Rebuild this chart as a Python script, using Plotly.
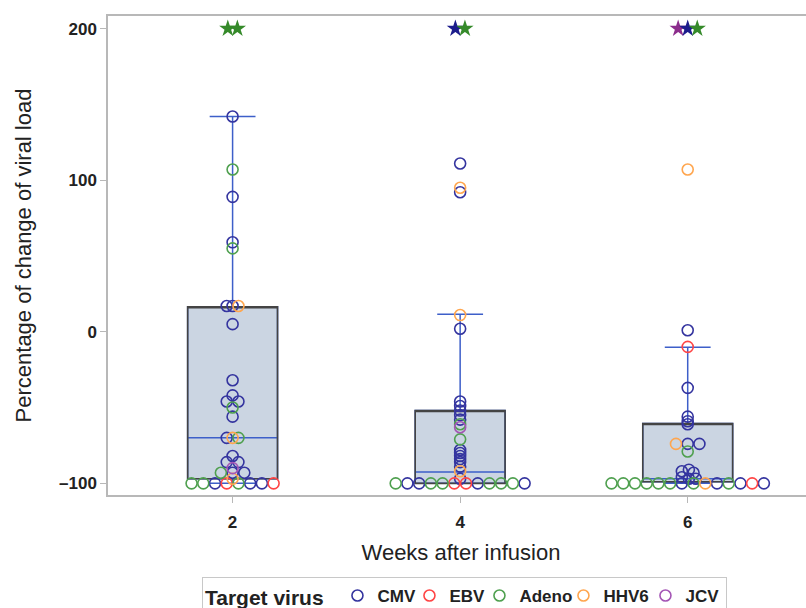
import plotly.graph_objects as go

# ---------------- data ----------------
weeks = [2, 4, 6]
tick_vals_y = [-100, 0, 100, 200]
tick_text_y = ["\u2013100", "0", "100", "200"]

# box statistics per week
box_q1 = [-97, -100, -99]
box_median = [-70, -92.5, -97]
box_q3 = [16.5, -52, -60.5]
box_low = [-100, -100, -100]
box_high = [142, 11.5, -10.3]

# points per virus: week, value, jitter slot
cmv_week = [2]*20 + [4]*19 + [6]*17
cmv_value = [142, 89, 59, 17, 17, 5, -32, -42, -46, -46, -56, -70, -82, -86, -86, -93, -93, -100, -100, -100,
             111, 92, 2, -46, -49, -52, -55, -58, -78, -80, -82, -84, -86, -89, -97, -100, -100, -100, -100,
             1, -37, -56, -59, -61, -74, -74, -92, -91, -93, -96, -97, -97, -100, -100, -100, -100]
cmv_slot = [0, 0, 0, -0.5, 0, 0, 0, 0, -0.5, 0.5, 0, -0.5, 0, -0.5, 0.5, 0, 1, -1.5, 1.5, 2.5,
            0, 0, 0, 0, 0, 0, 0, 0, 0, 0, 0, 0, 0, 0, 0, -4.5, -3.5, 1.5, 5.5,
            0, 0, 0, 0, 0, 0, 1, -0.5, 0.1, 0.5, -0.5, 0.1, 0.7, -0.5, 2.5, 4.5, 6.5]

ebv_week = [2, 2, 4, 4, 6, 6]
ebv_value = [-100, -100, -100, -100, -10, -100]
ebv_slot = [-0.5, 3.5, -0.5, 0.5, 0, 5.5]

adeno_week = [2]*8 + [4]*8 + [6]*9
adeno_value = [107, 55, -50, -70, -93, -100, -100, -100,
               -61, -71, -100, -100, -100, -100, -100, -100,
               -79, -100, -100, -100, -100, -100, -100, -100, -100]
adeno_slot = [0, 0, 0, 0.5, -1, -3.5, -2.5, 0.5,
              0, 0, -5.5, -2.5, -1.5, 2.5, 3.5, 4.5,
              0, -6.5, -5.5, -4.5, -3.5, -2.5, -1.5, 0.5, 3.5]

hhv6_week = [2, 2, 2, 4, 4, 4, 6, 6, 6]
hhv6_value = [17, -70, -97, 95, 11, -92, 107, -74, -100]
hhv6_slot = [0.5, 0, 0, 0, 0, 0, 0, -1, 1.5]

jcv_week = [2, 4]
jcv_value = [-90, -63]
jcv_slot = [0, 0]

# values above 200 shown as stars at the top
star_week = [2, 2, 4, 4, 6, 6, 6]
star_virus = ["Adeno", "Adeno", "CMV", "Adeno", "JCV", "CMV", "Adeno"]
star_slot = [-0.5, 0.5, -0.5, 0.5, -1, 0, 1]
star_value = 200

viruses = ["CMV", "EBV", "Adeno", "HHV6", "JCV"]
circle_colors = {"CMV": "#34349f", "EBV": "#ff4545", "Adeno": "#4fa04f",
                 "HHV6": "#ffa64f", "JCV": "#a455b5"}
star_colors = {"CMV": "#1c1c8c", "Adeno": "#358a2a", "JCV": "#8c2d8c"}
legend_widths = {"CMV": 27, "EBV": 25, "Adeno": 39, "HHV6": 37, "JCV": 35}

SLOT = 0.103       # jitter step (x units) for circles
STAR_STEP = 0.084  # jitter step for stars

series = {
    "CMV": (cmv_week, cmv_value, cmv_slot),
    "EBV": (ebv_week, ebv_value, ebv_slot),
    "Adeno": (adeno_week, adeno_value, adeno_slot),
    "HHV6": (hhv6_week, hhv6_value, hhv6_slot),
    "JCV": (jcv_week, jcv_value, jcv_slot),
}

FONT = "Liberation Sans, Arial, sans-serif"

# ---------------- figure ----------------
fig = go.Figure()

# box with blue whiskers / median
fig.add_trace(go.Box(
    x=weeks, q1=box_q1, median=box_median, q3=box_q3,
    lowerfence=box_low, upperfence=box_high,
    width=0.79, whiskerwidth=0.51, boxpoints=False,
    fillcolor="#cbd5e2", line=dict(color="#3d5fc9", width=1.5),
    showlegend=False, hoverinfo="skip"))
# dark outline of the box
fig.add_trace(go.Box(
    x=weeks, q1=box_q1, median=box_q3, q3=box_q3,
    lowerfence=box_q1, upperfence=box_q3,
    width=0.79, whiskerwidth=0, boxpoints=False,
    fillcolor="rgba(0,0,0,0)", line=dict(color="#444444", width=1.6),
    showlegend=False, hoverinfo="skip"))

for v in viruses:
    w, val, s = series[v]
    fig.add_trace(go.Scatter(
        x=[wi + si * SLOT for wi, si in zip(w, s)], y=val,
        mode="markers", name=v, legendwidth=legend_widths[v],
        marker=dict(symbol="circle-open", size=11,
                    line=dict(color=circle_colors[v], width=1.6),
                    color=circle_colors[v])))

for v in ["JCV", "CMV", "Adeno"]:
    xs = [wi + si * STAR_STEP for wi, si, sv in zip(star_week, star_slot, star_virus) if sv == v]
    fig.add_trace(go.Scatter(
        x=xs, y=[star_value] * len(xs), mode="markers", showlegend=False,
        marker=dict(symbol="star", size=13, color=star_colors[v],
                    line=dict(width=0))))

fig.update_layout(
    width=814, height=626,
    margin=dict(l=108, r=0, t=16, b=131),
    paper_bgcolor="white", plot_bgcolor="white",
    boxmode="overlay",
    font=dict(family=FONT, color="#222222"),
    xaxis=dict(range=[0.905, 7.11], tickvals=weeks, ticktext=[str(w) for w in weeks],
               showgrid=False, zeroline=False, automargin=False,
               showline=True, mirror=True, linecolor="#b8b8b8", linewidth=1.5,
               ticks="outside", ticklen=6, tickcolor="#b8b8b8", ticklabelstandoff=5,
               tickfont=dict(size=17, family=FONT, color="#222222", weight="bold"),
               title=dict(text="Weeks after infusion", font=dict(size=22), standoff=13)),
    yaxis=dict(range=[-107.7, 208.3], tickvals=tick_vals_y, ticktext=tick_text_y,
               showgrid=False, zeroline=False, automargin=False,
               showline=True, mirror=False, linecolor="#b8b8b8", linewidth=1.5,
               ticks="outside", ticklen=6, tickcolor="#b8b8b8",
               tickfont=dict(size=17, family=FONT, color="#222222", weight="bold"),
               title=dict(text="Percentage of change of viral load", font=dict(size=22), standoff=21)),
    legend=dict(orientation="h", x=0.1331, xanchor="left", y=-0.171, yanchor="top",
                bordercolor="#c8c8c8", borderwidth=1, bgcolor="white",
                title=dict(text="Target virus\u00a0", side="left",
                           font=dict(size=21, weight="bold")),
                font=dict(size=17, weight="bold"), itemwidth=30),
)

fig.write_html("out.html", config={"displayModeBar": False},
               post_script="document.body.style.margin='0';document.body.style.overflow='hidden';")
